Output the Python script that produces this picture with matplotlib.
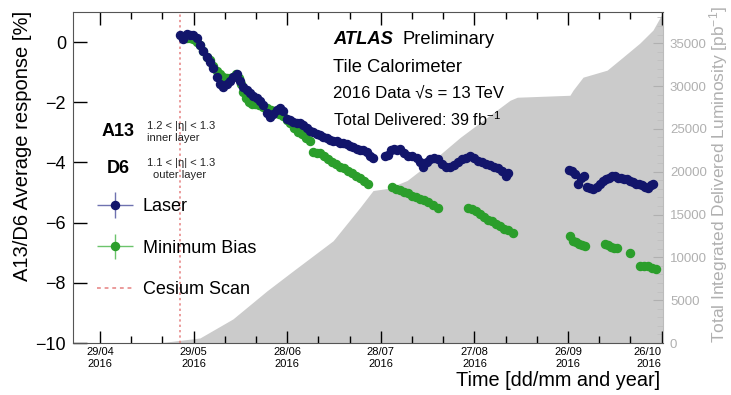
import numpy as np
import matplotlib
matplotlib.use("Agg")
import matplotlib.pyplot as plt
import matplotlib.dates as mdates
from matplotlib.lines import Line2D
from matplotlib.legend_handler import HandlerErrorbar

plt.rcParams["font.family"] = ["Liberation Sans", "DejaVu Sans"]
plt.rcParams["mathtext.fontset"] = "custom"
plt.rcParams["mathtext.rm"] = "Liberation Sans"
plt.rcParams["mathtext.it"] = "Liberation Sans:italic"

# days counted from 29/04/2016
START = np.datetime64("2016-04-29T00")

laser_day = [25.6, 26.6, 27.9, 28.8, 29.8, 31.1, 32.1, 33.0, 34.3, 35.3, 36.2, 37.5,
             38.5, 39.4, 40.7, 41.7, 42.6, 43.9, 44.9, 45.8, 47.1, 48.1, 49.0, 50.3,
             51.3, 52.2, 53.5, 54.5, 55.4, 56.7, 57.7, 58.7, 59.9, 60.9, 61.9, 63.1,
             64.1, 65.1, 66.3, 67.3, 68.3, 69.6, 70.5, 71.5, 72.8, 73.7, 74.7, 76.0,
             76.9, 77.9, 79.2, 80.1, 81.1, 82.4, 83.3, 84.3, 85.6, 86.5, 87.5,
             91.3, 92.3, 93.3, 94.2, 95.2, 96.2, 97.4, 98.7, 100.0, 101.6, 102.6, 103.5,
             104.8, 105.8, 107.1, 108.3, 109.6, 110.9, 112.2, 113.5, 114.7, 116.0, 117.3,
             118.6, 119.9, 121.2, 122.4, 123.7, 125.0, 126.3, 127.6, 128.8, 130.1, 130.8,
             150.3, 151.3, 152.2, 153.2, 154.2, 155.1, 156.1, 157.1, 158.0, 159.3, 160.3,
             161.2, 162.2, 163.1, 164.1, 165.1, 166.0, 167.0, 168.0, 168.9, 169.9, 170.8,
             171.8, 172.8, 173.7, 174.7, 175.6, 176.6, 177.2]
laser_resp = [0.23, 0.10, 0.27, 0.25, 0.25, 0.15, -0.10, -0.30, -0.50, -0.65, -0.85, -1.15,
              -1.40, -1.50, -1.40, -1.30, -1.15, -1.05, -1.30, -1.50, -1.60, -1.70, -1.80, -1.85,
              -1.95, -2.10, -2.35, -2.50, -2.40, -2.25, -2.20, -2.30, -2.55, -2.60, -2.65, -2.70,
              -2.70, -2.75, -2.85, -2.95, -3.00, -3.05, -3.10, -3.15, -3.20, -3.25, -3.30, -3.30,
              -3.35, -3.35, -3.40, -3.45, -3.50, -3.55, -3.60, -3.60, -3.65, -3.80, -3.85,
              -3.80, -3.75, -3.60, -3.55, -3.60, -3.55, -3.70, -3.80, -3.80, -3.85, -4.00, -4.15,
              -4.00, -3.90, -3.85, -3.90, -4.05, -4.15, -4.15, -4.10, -4.00, -3.90, -3.85,
              -3.80, -3.85, -3.95, -4.00, -4.05, -4.10, -4.15, -4.20, -4.30, -4.45, -4.35,
              -4.25, -4.30, -4.40, -4.70, -4.50, -4.45, -4.80, -4.85, -4.87, -4.80, -4.70,
              -4.60, -4.55, -4.50, -4.45, -4.45, -4.50, -4.50, -4.55, -4.55, -4.60, -4.65,
              -4.70, -4.72, -4.75, -4.80, -4.85, -4.75, -4.72]

mb_day = [27.9, 28.8, 29.8, 31.1, 32.1, 33.0, 34.3, 35.3, 36.2, 37.5, 38.5, 39.4,
          40.7, 41.7, 42.6, 43.6, 44.6, 45.2, 45.8, 46.8, 47.8, 48.7, 49.7, 51.0,
          52.2, 53.5, 54.8, 56.1, 57.4, 58.7, 59.9, 60.9, 62.2, 63.5, 64.7, 66.0,
          67.3, 68.3, 69.6, 70.5, 71.8, 73.1, 74.4, 75.6, 76.9, 78.2, 79.5, 80.8,
          82.1, 83.3, 84.6, 85.9,
          93.6, 94.9, 96.2, 97.4, 98.7, 100.0, 101.3, 102.6, 103.8, 105.1, 106.7, 108.3,
          117.9, 119.2, 120.5, 121.8, 123.1, 124.4, 125.6, 126.9, 128.2, 129.5, 130.8, 132.4,
          150.6, 151.6, 152.6, 153.5, 154.5, 155.4,
          161.9, 162.8, 163.8, 164.7, 165.7, 169.9,
          173.1, 174.4, 175.6, 176.9, 178.2]
mb_resp = [0.15, 0.13, 0.10, 0.00, -0.10, -0.30, -0.50, -0.60, -0.80, -0.95, -1.05, -1.15,
           -1.20, -1.20, -1.15, -1.05, -1.20, -1.40, -1.65, -1.85, -2.00, -2.05, -2.05, -2.10,
           -2.15, -2.20, -2.25, -2.30, -2.40, -2.45, -2.60, -2.70, -2.85, -3.00, -3.05, -3.20,
           -3.30, -3.65, -3.70, -3.70, -3.80, -3.90, -4.00, -4.05, -4.15, -4.20, -4.30, -4.35,
           -4.45, -4.50, -4.60, -4.70,
           -4.83, -4.88, -4.93, -4.98, -5.03, -5.10, -5.15, -5.20, -5.25, -5.30, -5.40, -5.50,
           -5.50, -5.55, -5.60, -5.70, -5.80, -5.90, -5.95, -6.05, -6.10, -6.20, -6.25, -6.33,
           -6.45, -6.60, -6.65, -6.70, -6.75, -6.77,
           -6.70, -6.75, -6.80, -6.85, -6.85, -7.00,
           -7.43, -7.45, -7.45, -7.50, -7.55]

lumi_day = [0, 18, 22, 32, 42.6, 53.5, 61.9, 74.7, 83.3, 87.5, 92, 98.4, 106.7, 115.4,
            122.8, 131.4, 133.7, 150.6, 151.6, 154.8, 162.5, 167.6, 173, 177.2, 180.4]
lumi_pb = [0, 0, 150, 585, 2810, 6090, 8430, 11940, 15810, 17800, 18030, 18970, 21310,
           24000, 26000, 28340, 28690, 28920, 29510, 31030, 31850, 33370, 35010, 36530, 38600]

cesium_day = 25.6
tick_days = [0, 30, 60, 90, 120, 150, 180]


def to_date(days):
    return START + np.round(np.asarray(days) * 24).astype("timedelta64[h]")


def to_num(days):
    return mdates.date2num(to_date(days))


W, H = 731, 395
fig = plt.figure(figsize=(W / 100, H / 100), dpi=100)
ax = fig.add_axes([73 / W, 1 - 343 / H, 590 / W, 331 / H])
ax2 = ax.twinx()
ax.set_zorder(ax2.get_zorder() + 1)
ax.patch.set_visible(False)

# luminosity on the right axis
ax2.fill_between(to_num(lumi_day), lumi_pb, 0, color="#cbcbcb", lw=0)
ax2.set_ylim(0, 38640)
ax2.set_yticks(np.arange(0, 35001, 5000))
ax2.yaxis.set_minor_locator(matplotlib.ticker.MultipleLocator(1000))
ax2.tick_params(axis="y", which="major", direction="in", length=7, colors="#b0b0b0",
                labelsize=9.5, pad=5)
ax2.tick_params(axis="y", which="minor", direction="in", length=4, colors="#c0c0c0")
for s in ax2.spines.values():
    s.set_visible(False)
fig.text(719 / W, 1 - 6 / H, r"Total Integrated Delivered Luminosity [pb$^{-1}$]",
         color="#b0b0b0", fontsize=12.5, rotation=90, ha="center", va="top")

# response points
green = "#2b9e2b"
navy = "#12156b"
ax.axvline(to_num(cesium_day), color="#e58080", ls=(0, (1.5, 2)), lw=1.1, zorder=1)
mb = ax.errorbar(to_num(mb_day), mb_resp, xerr=0, yerr=0, fmt="o", ms=5.8,
                 color=green, ecolor="#6cc46c", elinewidth=1, zorder=3)
las = ax.errorbar(to_num(laser_day), laser_resp, xerr=0, yerr=0, fmt="o", ms=5.8,
                  color=navy, ecolor="#6f72b0", elinewidth=1, zorder=4)
cs = Line2D([], [], color="#e58080", ls=(0, (2.5, 2.5)), lw=1.1)

ax.set_ylim(-10, 1)
ax.set_xlim(to_num(-8.65), to_num(180.4))
ax.set_yticks([-10, -8, -6, -4, -2, 0])
ax.set_yticklabels(["\u221210", "\u22128", "\u22126", "\u22124", "\u22122", "0"])
ax.set_xticks(to_num(tick_days))
ax.set_xticklabels([d.astype(object).strftime("%d/%m") + "\n2016"
                    for d in to_date(tick_days)])
ax.xaxis.set_minor_locator(matplotlib.ticker.FixedLocator(to_num(np.arange(0, 181, 10))))
ax.tick_params(axis="y", which="major", direction="in", length=10, width=1,
               labelsize=13, pad=5, left=True, right=False)
ax.tick_params(axis="x", which="major", direction="in", length=9, width=1,
               labelsize=8, pad=3, top=True)
ax.tick_params(axis="x", which="minor", direction="in", length=5, width=1, top=True)
for k in ["left", "bottom", "top", "right"]:
    ax.spines[k].set_color("#555555")
ax.spines["right"].set_color("#bbbbbb")
# keep the last date label clear of the right-hand "0"
ax.get_xticklabels()[-1].set_horizontalalignment("right")
ax.get_xticklabels()[-1].set_x(to_num(tick_days[-1]))

fig.text(23 / W, 1 - 11 / H, "A13/D6 Average response [%]", rotation=90,
         ha="center", va="top", fontsize=14.5)
fig.text(660 / W, 1 - 381 / H, "Time [dd/mm and year]", ha="right", va="center",
         fontsize=14.3)

fig.text(333 / W, 1 - 40 / H, "ATLAS", fontsize=13.2, fontweight="bold",
         fontstyle="italic", va="center")
fig.text(402 / W, 1 - 40 / H, "Preliminary", fontsize=13.2, va="center")
fig.text(333 / W, 1 - 67 / H, "Tile Calorimeter", fontsize=13.2, va="center")
fig.text(333 / W, 1 - 93 / H, "2016 Data \u221as = 13 TeV", fontsize=12.1,
         va="center")
fig.text(333 / W, 1 - 120 / H, r"Total Delivered: 39 fb$^{-1}$", fontsize=11.6,
         va="center")

small = dict(fontsize=8, va="center", color="#222222")
fig.text(102 / W, 1 - 132 / H, "A13", fontsize=13, fontweight="bold", va="center")
fig.text(147 / W, 1 - 126 / H, "1.2 < |\u03b7| < 1.3", **small)
fig.text(147 / W, 1 - 138 / H, "inner layer", **small)
fig.text(107 / W, 1 - 168 / H, "D6", fontsize=13, fontweight="bold", va="center")
fig.text(147 / W, 1 - 163 / H, "1.1 < |\u03b7| < 1.3", **small)
fig.text(153 / W, 1 - 175 / H, "outer layer", **small)

ax.legend([las, mb, cs], ["Laser", "Minimum Bias", "Cesium Scan"],
          handler_map={las: HandlerErrorbar(xerr_size=1.0, yerr_size=0.7),
                       mb: HandlerErrorbar(xerr_size=1.0, yerr_size=0.7)},
          loc="upper left", bbox_to_anchor=(0.04, 0.437), frameon=False,
          fontsize=13, handlelength=2.0, handletextpad=0.55, labelspacing=1.35,
          borderpad=0, borderaxespad=0)

fig.savefig("out.png", dpi=100)
